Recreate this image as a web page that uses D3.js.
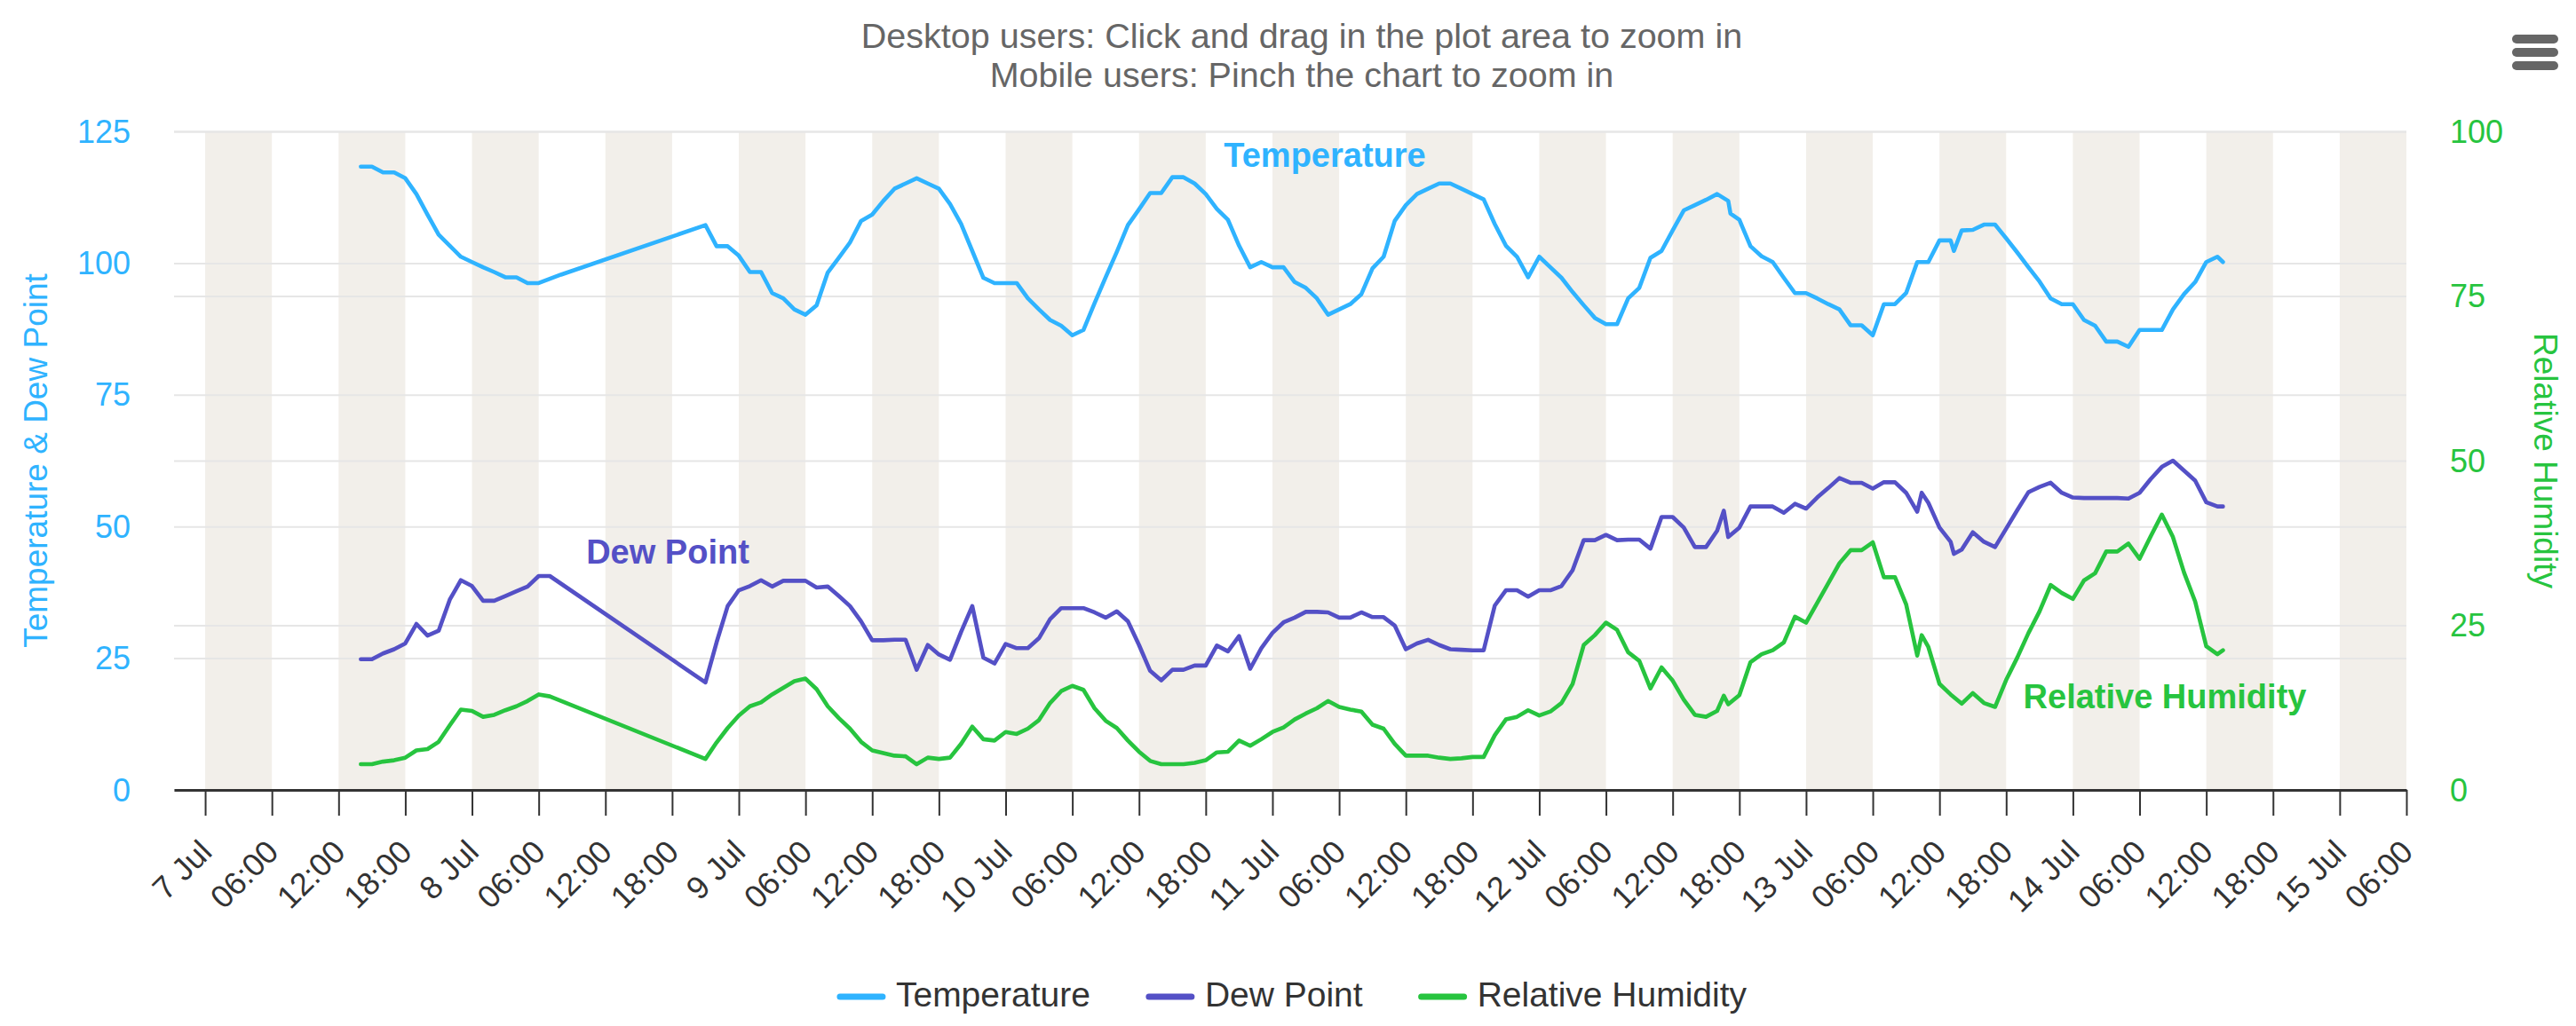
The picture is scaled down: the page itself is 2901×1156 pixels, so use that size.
<!DOCTYPE html>
<html>
<head>
<meta charset="utf-8">
<script src="https://cdn.jsdelivr.net/npm/d3@7"></script>
<style>
  body { margin: 0; background: #ffffff; }
  text { font-family: "Liberation Sans", Arial, Helvetica, sans-serif; }
</style>
</head>
<body>
<div id="chart"></div>
<script>
//Data: [hours after 7 Jul 00:00, value]
var temperature = [[14,118.3],[15,118.3],[16,117.2],[17,117.2],[18,116.1],[19,113.1],[20,109.2],[21,105.4],[22,103.3],[23,101.2],[24,100.2],[25,99.2],[26,98.3],[27,97.3],[28,97.3],[29,96.2],[30,96.2],[31,97.0],[32,97.8],
  [45,107.2],[46,103.2],[47,103.2],[48,101.4],[49,98.3],[50,98.3],[51,94.3],[52,93.3],[53,91.2],[54,90.2],[55,92.0],[56,98.2],[57,101.0],[58,103.9],[59,108.0],[60,109.2],[61,111.8],[62,114.1],[63,115.1],[64,116.1],[65,115.1],[66,114.1],[67,111.2],[68,107.4],[69,102.3],[70,97.2],[71,96.2],[72,96.2],[73,96.2],[74,93.3],[75,91.2],[76,89.2],[77,88.1],
  [78,86.3],[79,87.3],[80,92.4],[81,97.3],[82,102.1],[83,107.2],[84,110.2],[85,113.3],[86,113.3],[87,116.3],[88,116.3],[89,115.1],[90,113.1],[91,110.3],[92,108.2],[93,103.3],[94,99.2],[95,100.2],[96,99.2],[97,99.2],[98,96.4],[99,95.3],[100,93.3],[101,90.2],[102,91.2],[103,92.2],[104,94.1],[105,99.0],[106,101.2],[107,108.0],[108,111.0],[109,113.1],[110,114.1],[111,115.1],[112,115.1],[113,114.1],[114,113.1],[115,112.1],[116,107.4],[117,103.3],
  [118,101.2],[119,97.3],[120,101.2],[121,99.2],[122,97.2],[123,94.5],[124,92.0],[125,89.6],[126,88.4],[127,88.4],[128,93.3],[129,95.3],[130,101.0],[131,102.3],[132,106.2],[133,110.0],[134,111.0],[135,112.0],[136,113.1],[137,111.8],[137.2,109.4],[138,108.2],[139,103.2],[140,101.3],[141,100.2],[142,97.2],[143,94.3],[144,94.3],[145,93.3],[146,92.2],[147,91.2],[148,88.2],[149,88.2],[150,86.3],[151,92.2],[152,92.2],[153,94.3],[154,100.2],[155,100.2],[156,104.3],[157,104.3],[157.3,102.3],
  [158,106.2],[159,106.3],[160,107.3],[161,107.3],[162,104.7],[163,102.0],[164,99.2],[165,96.5],[166,93.3],[167,92.2],[168,92.2],[169,89.2],[170,88.1],[171,85.1],[172,85.1],[173,84.1],[174,87.3],[175,87.3],[176,87.3],[177,91.2],[178,94.1],[179,96.4],[180,100.2],[181,101.2],[181.5,100.2]];

var dewPoint = [[14,24.8],[15,24.8],[16,25.9],[17,26.7],[18,27.8],[19,31.5],[20,29.3],[21,30.2],[22,36.1],[23,39.8],[24,38.7],[25,35.9],[26,35.9],[27,36.8],[28,37.7],[29,38.6],[30,40.6],[31,40.6],
  [45,20.4],[46,28.0],[47,34.9],[48,37.9],[49,38.7],[50,39.8],[51,38.6],[52,39.7],[53,39.7],[54,39.7],[55,38.4],[56,38.6],[57,36.8],[58,34.9],[59,32.0],[60,28.4],[61,28.4],[62,28.5],[63,28.5],[64,22.8],[65,27.5],[66,25.7],[67,24.7],[68,30.0],[69,34.9],[70,25.1],[71,24.0],[72,27.7],[73,26.9],[74,26.9],[75,28.8],[76,32.4],[77,34.5],
  [78,34.5],[79,34.5],[80,33.7],[81,32.7],[82,33.9],[83,32.0],[84,27.5],[85,22.6],[86,20.8],[87,22.8],[88,22.8],[89,23.6],[90,23.6],[91,27.4],[92,26.3],[93,29.2],[94,23.0],[95,26.9],[96,29.8],[97,31.8],[98,32.7],[99,33.8],[100,33.8],[101,33.7],[102,32.7],[103,32.7],[104,33.7],[105,32.8],[106,32.8],[107,31.2],[108,26.7],[109,27.8],[110,28.5],[111,27.5],[112,26.7],[113,26.6],[114,26.5],[115,26.5],[116,35.0],[117,37.9],
  [118,37.9],[119,36.7],[120,37.9],[121,37.9],[122,38.7],[123,41.7],[124,47.4],[125,47.4],[126,48.4],[127,47.4],[128,47.5],[129,47.5],[130,45.8],[131,51.8],[132,51.8],[133,49.8],[134,46.1],[135,46.1],[136,49.2],[136.6,53.0],[137,48.0],[138,49.8],[139,53.8],[140,53.8],[141,53.8],[142,52.6],[143,54.3],[144,53.4],[145,55.5],[146,57.3],[147,59.2],[148,58.3],[149,58.3],[150,57.2],[151,58.4],[152,58.4],[153,56.4],[154,52.8],[154.4,56.4],[155,54.5],[156,49.8],[157,47.1],[157.3,44.8],
  [158,45.6],[159,48.9],[160,47.1],[161,46.1],[162,49.6],[163,53.1],[164,56.5],[165,57.5],[166,58.3],[167,56.4],[168,55.5],[169,55.4],[170,55.4],[171,55.4],[172,55.4],[173,55.3],[174,56.4],[175,59.0],[176,61.3],[177,62.5],[178,60.6],[179,58.7],[180,54.6],[181,53.8],[181.5,53.8]];

var humidity = [[14,3.9],[15,3.9],[16,4.3],[17,4.5],[18,4.9],[19,6.0],[20,6.2],[21,7.3],[22,9.8],[23,12.2],[24,12.0],[25,11.1],[26,11.4],[27,12.1],[28,12.7],[29,13.5],[30,14.5],[31,14.2],
  [45,4.7],[46,7.2],[47,9.4],[48,11.3],[49,12.7],[50,13.3],[51,14.5],[52,15.5],[53,16.5],[54,16.9],[55,15.3],[56,12.7],[57,10.9],[58,9.3],[59,7.3],[60,6.0],[61,5.6],[62,5.2],[63,5.1],[64,3.9],[65,4.9],[66,4.7],[67,4.9],[68,7.0],[69,9.6],[70,7.7],[71,7.5],[72,8.8],[73,8.5],[74,9.3],[75,10.6],[76,13.2],[77,15.0],
  [78,15.8],[79,15.2],[80,12.4],[81,10.5],[82,9.4],[83,7.5],[84,5.8],[85,4.4],[86,3.9],[87,3.9],[88,3.9],[89,4.1],[90,4.5],[91,5.7],[92,5.8],[93,7.5],[94,6.7],[95,7.7],[96,8.8],[97,9.5],[98,10.7],[99,11.6],[100,12.4],[101,13.5],[102,12.6],[103,12.2],[104,11.9],[105,9.9],[106,9.3],[107,7.0],[108,5.2],[109,5.2],[110,5.2],[111,4.9],[112,4.7],[113,4.8],[114,5.0],[115,5.0],[116,8.3],[117,10.7],
  [118,11.1],[119,12.1],[120,11.3],[121,11.9],[122,13.2],[123,16.1],[124,22.0],[125,23.5],[126,25.4],[127,24.3],[128,20.9],[129,19.6],[130,15.4],[131,18.6],[132,16.6],[133,13.7],[134,11.4],[135,11.1],[136,12.0],[136.6,14.3],[137,13.0],[138,14.4],[139,19.4],[140,20.6],[141,21.2],[142,22.4],[143,26.3],[144,25.4],[145,28.4],[146,31.4],[147,34.4],[148,36.4],[149,36.4],[150,37.6],[151,32.3],[152,32.3],[153,28.2],[154,20.4],[154.4,23.5],[155,21.7],[156,16.1],[157,14.5],
  [158,13.1],[159,14.7],[160,13.2],[161,12.6],[162,16.7],[163,20.1],[164,23.8],[165,27.1],[166,31.1],[167,29.9],[168,29.0],[169,31.8],[170,32.9],[171,36.2],[172,36.2],[173,37.4],[174,35.1],[175,38.5],[176,41.8],[177,38.4],[178,33.0],[179,28.6],[180,21.8],[181,20.6],[181.5,21.2]];

var leftTicks = [0, 25, 50, 75, 100, 125];
var rightTicks = [0, 25, 50, 75, 100];
var seriesNames = ["Temperature", "Dew Point", "Relative Humidity"];
var seriesColors = ["#2fb3ff", "#5450c6", "#27c43f"];
var titleLines = ["Desktop users: Click and drag in the plot area to zoom in", "Mobile users: Pinch the chart to zoom in"];

//Set margins and sizes
var W = 2901, H = 1156;
var margin = {top: 148, right: 191, bottom: 266, left: 196};
var plotW = W - margin.left - margin.right;
var plotH = H - margin.top - margin.bottom;
var fontSize = 36;

var baseTime = Date.UTC(2021, 6, 7);
function hourDate(h) { return new Date(baseTime + h * 3600000); }

//Scales
var x = d3.scaleUtc()
          .domain([hourDate(-2.8), hourDate(198)])
          .range([margin.left, margin.left + plotW]);
var yLeft = d3.scaleLinear().domain([0, 125]).range([margin.top + plotH, margin.top]);
var yRight = d3.scaleLinear().domain([0, 100]).range([margin.top + plotH, margin.top]);

var svg = d3.select("#chart").append("svg")
            .attr("width", W).attr("height", H);

//Plot bands: 00-06 and 12-18 every day
var bands = [];
for (var d = 0; d <= 8; d++) {
  bands.push([d * 24, d * 24 + 6]);
  bands.push([d * 24 + 12, d * 24 + 18]);
}
bands = bands.filter(function(b) { return b[0] < 198; });
svg.append("g").selectAll("rect")
   .data(bands).enter().append("rect")
   .attr("x", function(b) { return x(hourDate(b[0])); })
   .attr("width", function(b) { return x(hourDate(b[1])) - x(hourDate(b[0])); })
   .attr("y", margin.top)
   .attr("height", plotH)
   .attr("fill", "#f2efea");

//Grid lines for both y axes
var gridLeft = svg.append("g")
   .attr("transform", "translate(" + margin.left + ",0)")
   .call(d3.axisLeft(yLeft).tickValues(leftTicks).tickSize(-plotW).tickFormat(""));
var gridRight = svg.append("g")
   .attr("transform", "translate(" + margin.left + ",0)")
   .call(d3.axisLeft(yRight).tickValues(rightTicks).tickSize(-plotW).tickFormat(""));
[gridLeft, gridRight].forEach(function(g) {
  g.select(".domain").remove();
  g.selectAll("line").attr("stroke", "#e6e6e6").attr("stroke-width", 2);
});

//Y axis labels
svg.append("g").selectAll("text")
   .data(leftTicks).enter().append("text")
   .attr("x", margin.left - 49)
   .attr("y", function(d) { return yLeft(d); })
   .attr("dy", "0.35em")
   .attr("text-anchor", "end")
   .attr("font-size", fontSize)
   .attr("fill", seriesColors[0])
   .text(function(d) { return d; });
svg.append("g").selectAll("text")
   .data(rightTicks).enter().append("text")
   .attr("x", margin.left + plotW + 49)
   .attr("y", function(d) { return yRight(d); })
   .attr("dy", "0.35em")
   .attr("text-anchor", "start")
   .attr("font-size", fontSize)
   .attr("fill", seriesColors[2])
   .text(function(d) { return d; });

//Axis titles
svg.append("text")
   .attr("transform", "translate(40," + (margin.top + plotH / 2) + ") rotate(-90)")
   .attr("text-anchor", "middle").attr("dominant-baseline", "central")
   .attr("font-size", 37).attr("fill", seriesColors[0])
   .text("Temperature & Dew Point");
svg.append("text")
   .attr("transform", "translate(2866," + (margin.top + plotH / 2) + ") rotate(90)")
   .attr("text-anchor", "middle").attr("dominant-baseline", "central")
   .attr("font-size", 37).attr("fill", seriesColors[2])
   .text("Relative Humidity");

//X axis
var xTicks = d3.utcHour.every(6).range(hourDate(0), hourDate(198.5));
var fmtDay = d3.utcFormat("%-d %b"), fmtHour = d3.utcFormat("%H:%M");
var xAxis = svg.append("g")
   .attr("transform", "translate(0," + (margin.top + plotH) + ")")
   .call(d3.axisBottom(x).tickValues(xTicks).tickSize(29).tickSizeOuter(0)
          .tickFormat(function(t) { return t.getUTCHours() === 0 ? fmtDay(t) : fmtHour(t); }));
xAxis.select(".domain").attr("stroke", "#333333").attr("stroke-width", 3);
xAxis.selectAll(".tick line").attr("stroke", "#333333").attr("stroke-width", 2);
xAxis.selectAll(".tick text")
   .attr("font-size", fontSize)
   .attr("font-family", "Liberation Sans, Arial, sans-serif")
   .attr("fill", "#333333")
   .attr("text-anchor", "end")
   .attr("y", 0).attr("dy", 0)
   .attr("transform", "translate(9,72) rotate(-45)");

//Lines
var line = d3.line()
   .x(function(p) { return x(hourDate(p[0])); });
var seriesData = [temperature, dewPoint, humidity];
var seriesScale = [yLeft, yLeft, yRight];
svg.append("g").selectAll("path")
   .data(seriesData).enter().append("path")
   .attr("d", function(s, i) {
     return line.y(function(p) { return seriesScale[i](p[1]); })(s);
   })
   .attr("fill", "none")
   .attr("stroke", function(s, i) { return seriesColors[i]; })
   .attr("stroke-width", 4.6)
   .attr("stroke-linejoin", "round")
   .attr("stroke-linecap", "round");

//Series labels inside the plot
var seriesLabels = [
  {x: 1492, y: 188},
  {x: 752, y: 635},
  {x: 2438, y: 798}
];
svg.append("g").selectAll("text")
   .data(seriesLabels).enter().append("text")
   .attr("x", function(d) { return d.x; })
   .attr("y", function(d) { return d.y; })
   .attr("text-anchor", "middle")
   .attr("font-size", 38)
   .attr("font-weight", "bold")
   .attr("fill", function(d, i) { return seriesColors[i]; })
   .text(function(d, i) { return seriesNames[i]; });

//Title
svg.append("g").selectAll("text")
   .data(titleLines).enter().append("text")
   .attr("x", 1466)
   .attr("y", function(d, i) { return 54 + i * 44; })
   .attr("text-anchor", "middle")
   .attr("font-size", 39.5)
   .attr("fill", "#666666")
   .text(function(d) { return d; });

//Context menu icon
svg.append("g").selectAll("rect")
   .data([0, 1, 2]).enter().append("rect")
   .attr("x", 2829).attr("y", function(d) { return 39 + d * 15; })
   .attr("width", 52).attr("height", 10).attr("rx", 5)
   .attr("fill", "#666666");

//Legend
var legend = svg.append("g");
var item = legend.selectAll("g")
   .data(seriesNames).enter().append("g");
item.append("line")
   .attr("x1", 0).attr("x2", 48).attr("y1", 1123).attr("y2", 1123)
   .attr("stroke", function(d, i) { return seriesColors[i]; })
   .attr("stroke-width", 7).attr("stroke-linecap", "round");
item.append("text")
   .attr("x", 63).attr("y", 1134)
   .attr("font-size", 39).attr("fill", "#333333")
   .text(function(d) { return d; });
var pos = 0;
item.each(function() {
  var len = d3.select(this).select("text").node().getComputedTextLength();
  d3.select(this).attr("transform", "translate(" + pos + ",0)");
  pos += 63 + len + 66;
});
legend.attr("transform", "translate(" + (W / 2 + 6 - (pos - 66) / 2) + ",0)");
</script>
</body>
</html>
